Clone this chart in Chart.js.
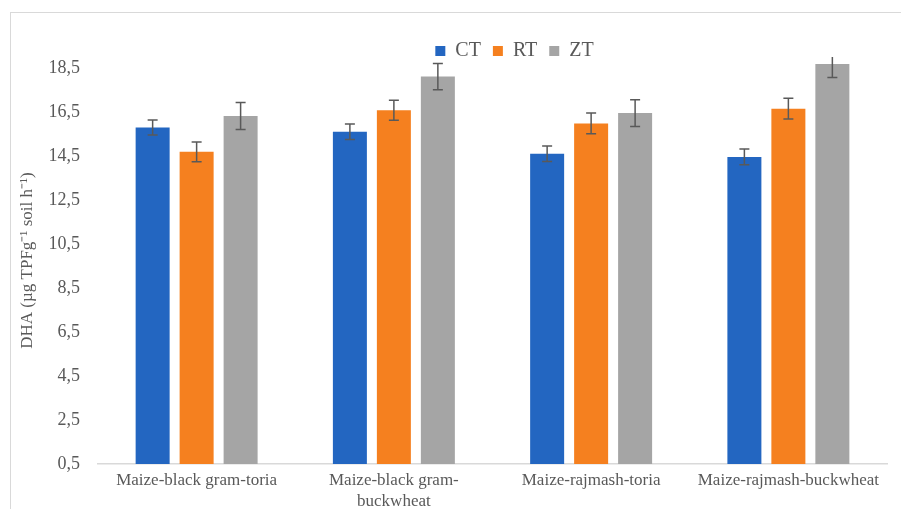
<!DOCTYPE html>
<html>
<head>
<meta charset="utf-8">
<script src="https://cdn.jsdelivr.net/npm/chart.js@4/dist/chart.umd.min.js"></script>
<style>
  html, body { margin: 0; padding: 0; background: #ffffff; overflow: hidden; width: 901px; height: 509px; }
  #frame { position: absolute; left: 10px; top: 12px; width: 1000px; height: 1000px; border: 1px solid #d9d9d9; }
  #c { position: absolute; left: 0; top: 0; }
</style>
</head>
<body>
<div id="frame"></div>
<canvas id="c" width="901" height="509"></canvas>
<script>
const categories = [
  'Maize-black gram-toria',
  ['Maize-black gram-', 'buckwheat'],
  'Maize-rajmash-toria',
  'Maize-rajmash-buckwheat'
];
const seriesNames = ['CT', 'RT', 'ZT'];
const ctValues = [15.80, 15.60, 14.60, 14.46];
const rtValues = [14.69, 16.58, 15.98, 16.65];
const ztValues = [16.32, 18.11, 16.45, 18.68];
const ctErrors = [0.34, 0.35, 0.35, 0.36];
const rtErrors = [0.45, 0.45, 0.47, 0.47];
const ztErrors = [0.61, 0.60, 0.61, 0.61];
const yTickValues = [0.5, 2.5, 4.5, 6.5, 8.5, 10.5, 12.5, 14.5, 16.5, 18.5];
const yMin = 0.5, yMax = 19;
const yTitle = 'DHA (µg TPFg⁻¹ soil h⁻¹)';

const colors = ['#2366c1', '#f5801f', '#a5a5a5'];
const allValues = [ctValues, rtValues, ztValues];
const allErrors = [ctErrors, rtErrors, ztErrors];

Chart.defaults.font.family = "'Liberation Serif', 'Times New Roman', serif";
Chart.defaults.color = '#595959';

const errorBarPlugin = {
  id: 'errorBars',
  afterDatasetsDraw(chart) {
    const ctx = chart.ctx;
    const yScale = chart.scales.y;
    const area = chart.chartArea;
    ctx.save();
    ctx.beginPath();
    ctx.rect(area.left, area.top, area.right - area.left, area.bottom - area.top);
    ctx.clip();
    ctx.strokeStyle = '#595959';
    ctx.lineWidth = 1.5;
    chart.data.datasets.forEach((ds, di) => {
      const meta = chart.getDatasetMeta(di);
      meta.data.forEach((bar, i) => {
        const v = ds.data[i];
        const e = ds.errors[i];
        const x = bar.x;
        const yTop = yScale.getPixelForValue(v + e);
        const yBot = yScale.getPixelForValue(v - e);
        const cap = 5;
        ctx.beginPath();
        ctx.moveTo(x, yTop); ctx.lineTo(x, yBot);
        ctx.moveTo(x - cap, yTop); ctx.lineTo(x + cap, yTop);
        ctx.moveTo(x - cap, yBot); ctx.lineTo(x + cap, yBot);
        ctx.stroke();
      });
    });
    ctx.restore();
  }
};

// Shift the legend block to the right, as in the reference layout
const legendShiftPlugin = {
  id: 'legendShift',
  afterLayout(chart) {
    if (chart.legend) {
      chart.legend.left += 71;
      chart.legend.right += 71;
    }
  }
};

new Chart(document.getElementById('c'), {
  type: 'bar',
  data: {
    labels: categories,
    datasets: seriesNames.map((name, i) => ({
      label: name,
      data: allValues[i],
      errors: allErrors[i],
      backgroundColor: colors[i],
      borderWidth: 0,
      categoryPercentage: 0.669,
      barPercentage: 0.773
    }))
  },
  options: {
    responsive: false,
    animation: false,
    layout: { padding: { top: 29, right: 14, left: 0, bottom: 0 } },
    plugins: {
      legend: {
        position: 'top',
        maxHeight: 28,
        labels: {
          boxWidth: 10,
          boxHeight: 10,
          padding: 12,
          font: { size: 20 },
          color: '#595959'
        }
      },
      tooltip: { enabled: false }
    },
    scales: {
      x: {
        grid: { display: false, drawTicks: false },
        border: { display: true, color: '#d9d9d9', width: 1.5 },
        ticks: {
          maxRotation: 0,
          minRotation: 0,
          autoSkip: false,
          padding: 6,
          font: { size: 17, lineHeight: 1.25 },
          color: '#595959'
        },
        afterFit(axis) { axis.height = 45; }
      },
      y: {
        min: yMin,
        max: yMax,
        grid: { display: false, drawTicks: false },
        border: { display: false },
        afterBuildTicks(axis) { axis.ticks = yTickValues.map(v => ({ value: v })); },
        ticks: {
          padding: 18,
          font: { size: 18 },
          color: '#595959',
          callback: (v) => String(v).replace('.', ',')
        },
        title: {
          display: true,
          text: yTitle,
          font: { size: 17 },
          color: '#595959',
          padding: { top: 17, bottom: 4 }
        },
        afterFit(axis) { axis.width = 98; }
      }
    }
  },
  plugins: [errorBarPlugin, legendShiftPlugin]
});
</script>
</body>
</html>
